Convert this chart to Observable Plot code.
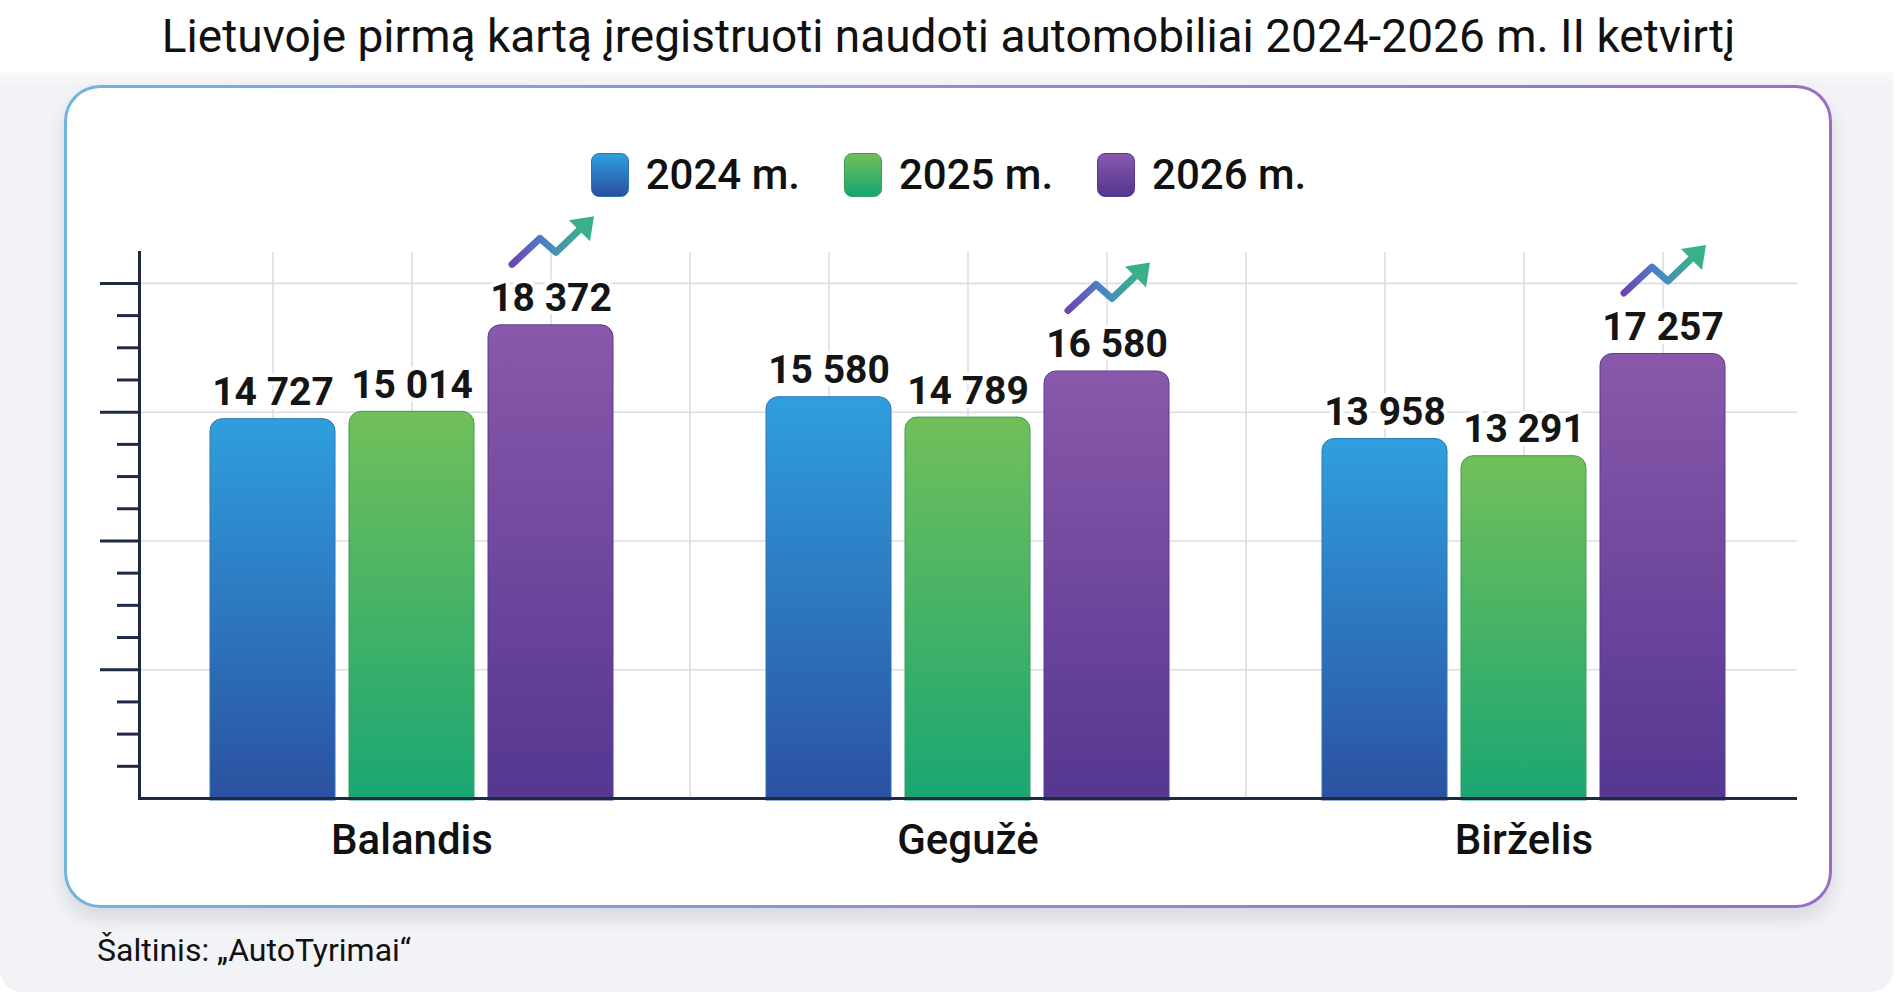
<!DOCTYPE html>
<html>
<head>
<meta charset="utf-8">
<script src="https://cdn.jsdelivr.net/npm/d3@7"></script>
<script src="https://cdn.jsdelivr.net/npm/@observablehq/plot@0.6"></script>
<style>
  html, body { margin: 0; padding: 0; background: #ffffff; }
  body { width: 1897px; height: 999px; position: relative; overflow: hidden; font-family: Roboto, "Noto Sans", sans-serif; }
  #title { position: absolute; left: 0; top: 9px; width: 1897px; text-align: center; font-size: 46px; color: #111; font-weight: 400; white-space: nowrap; }
  #panel { position: absolute; left: 0; top: 72px; width: 1893px; height: 920px; background: linear-gradient(#fafafb 0px, #f2f3f6 14px, #f2f3f6 100%); border-radius: 0 0 22px 22px; }
  #card { position: absolute; left: 64px; top: 85px; width: 1762px; height: 817px; border-radius: 36px;
          border: 3px solid transparent;
          background: linear-gradient(#fff, #fff) padding-box, linear-gradient(90deg, #6fb5de, #8f8fcf 50%, #9a6cc4) border-box;
          box-shadow: 0 10px 18px rgba(40, 40, 70, 0.13); }
  #legend { position: absolute; left: 0; top: 150px; width: 1897px; display: flex; justify-content: center; gap: 44px; }
  .item { display: flex; align-items: center; gap: 17px; font-size: 42px; color: #111; font-weight: 500; }
  .sw { width: 36px; height: 42px; border-radius: 8px; }
  #chart { position: absolute; left: 0; top: 0; }
  #source { position: absolute; left: 97px; top: 931px; font-size: 32px; color: #111; }
</style>
</head>
<body>
<div id="title">Lietuvoje pirmą kartą įregistruoti naudoti automobiliai 2024-2026 m. II ketvirtį</div>
<div id="panel"></div>
<div id="card"></div>
<div id="legend"></div>
<div id="chart"></div>
<div id="source">Šaltinis: „AutoTyrimai“</div>
<script>
// ---- data ----
const months = ["Balandis", "Gegužė", "Birželis"];
const years = ["2024 m.", "2025 m.", "2026 m."];
const values2024 = [14727, 15580, 13958];
const values2025 = [15014, 14789, 13291];
const values2026 = [18372, 16580, 17257];
const majorTicks = [5000, 10000, 15000, 20000];
const minorStep = 1250;

// ---- styles ----
const gradTop = ["#2f9fde", "#72bf5a", "#8958aa"];
const gradBottom = ["#2b4e9e", "#16a574", "#533690"];
const barStroke = ["#2a76b8", "#3a9e55", "#5b3b92"];
const ink = "#1e2a44";

const series = [values2024, values2025, values2026];
const key = (m, y) => `${m}|${y}`;
const rows = months.flatMap((m, i) => years.map((yr, j) => ({
  month: m, year: yr, key: key(m, yr), value: series[j][i], yi: j
})));
const xDomain = months.flatMap((m, i) => {
  const ks = years.map(yr => key(m, yr));
  return i < months.length - 1 ? [...ks, `gap${i}`] : ks;
});
const middleKeys = months.map(m => key(m, years[1]));
const minorTicks = d3.range(minorStep, majorTicks[majorTicks.length - 1], minorStep).filter(v => v % 5000 !== 0);
const fmt = v => d3.format(",")(v).replace(/,/g, " ");

// legend
const legend = document.getElementById("legend");
years.forEach((yr, j) => {
  const it = document.createElement("div");
  it.className = "item";
  it.innerHTML = `<div class="sw" style="background: linear-gradient(${gradTop[j]}, ${gradBottom[j]}); border: 1px solid ${barStroke[j]}"></div><span>${yr}</span>`;
  legend.appendChild(it);
});

// trend icon
const iconSvg = `<svg xmlns="http://www.w3.org/2000/svg" viewBox="0 0 90 54" width="90" height="54">
<defs><linearGradient id="a" x1="0" x2="1" y1="0" y2="0">
<stop offset="0" stop-color="#6b45b0"/><stop offset="0.5" stop-color="#4b84c8"/><stop offset="1" stop-color="#39b08a"/></linearGradient></defs>
<polyline points="6,49 34,23 50,37 74,14" fill="none" stroke="url(#a)" stroke-width="7" stroke-linecap="round" stroke-linejoin="round"/>
<polygon points="88,1 63,5 84,26" fill="#39b08a"/>
</svg>`;
const iconSrc = "data:image/svg+xml;utf8," + encodeURIComponent(iconSvg);

const plot = Plot.plot({
  width: 1897,
  height: 880,
  marginLeft: 139,
  marginRight: 100,
  marginTop: 252,
  marginBottom: 82,
  style: { background: "transparent", fontFamily: "Roboto, sans-serif", overflow: "visible" },
  x: { domain: xDomain, paddingInner: 0.1, paddingOuter: 0.475, label: null },
  y: { domain: [0, 21200], label: null },
  color: { domain: [0, 1, 2], range: ["url(#g0)", "url(#g1)", "url(#g2)"] },
  marks: [
    Plot.gridX({ stroke: "#dcdde3", strokeOpacity: 1, strokeWidth: 1.6 }),
    Plot.gridY({ ticks: majorTicks, stroke: "#dcdde3", strokeOpacity: 1, strokeWidth: 1.6 }),
    Plot.barY(rows, { x: "key", y: "value", fill: "yi", stroke: d => barStroke[d.yi], rx: 12, insetBottom: -16 }),
    Plot.ruleY([0], { stroke: "white", strokeWidth: 28, dy: 16 }),
    Plot.ruleY([0], { stroke: ink, strokeWidth: 3 }),
    Plot.frame({ anchor: "left", stroke: ink, strokeWidth: 3 }),
    Plot.axisY({ ticks: minorTicks, tickSize: 22, tickFormat: () => "", stroke: ink, strokeWidth: 3 }),
    Plot.axisY({ ticks: majorTicks, tickSize: 39, tickFormat: () => "", stroke: ink, strokeWidth: 3 }),
    Plot.text(rows, { x: "key", y: "value", text: d => fmt(d.value), dy: -14, lineAnchor: "bottom",
      fontSize: 39, fontWeight: 700, fill: "#151515", stroke: "white", strokeWidth: 8 }),
    Plot.image(rows.filter(d => d.yi === 2), { x: "key", y: "value", src: () => iconSrc, width: 90, height: 54, dy: -83 }),
    Plot.axisX({ ticks: middleKeys, tickFormat: k => k.split("|")[0], tickSize: 0, tickPadding: 26,
      fontSize: 42, fontWeight: 500, fill: "#111", label: null })
  ]
});

const svg = plot;
const ns = "http://www.w3.org/2000/svg";
const defs = document.createElementNS(ns, "defs");
gradTop.forEach((c, j) => {
  const g = document.createElementNS(ns, "linearGradient");
  g.setAttribute("id", "g" + j);
  g.setAttribute("x1", "0"); g.setAttribute("x2", "0"); g.setAttribute("y1", "0"); g.setAttribute("y2", "1");
  const s1 = document.createElementNS(ns, "stop"); s1.setAttribute("offset", "0"); s1.setAttribute("stop-color", c);
  const s2 = document.createElementNS(ns, "stop"); s2.setAttribute("offset", "1"); s2.setAttribute("stop-color", gradBottom[j]);
  g.appendChild(s1); g.appendChild(s2); defs.appendChild(g);
});
svg.insertBefore(defs, svg.firstChild);
document.getElementById("chart").appendChild(plot);
</script>
</body>
</html>
